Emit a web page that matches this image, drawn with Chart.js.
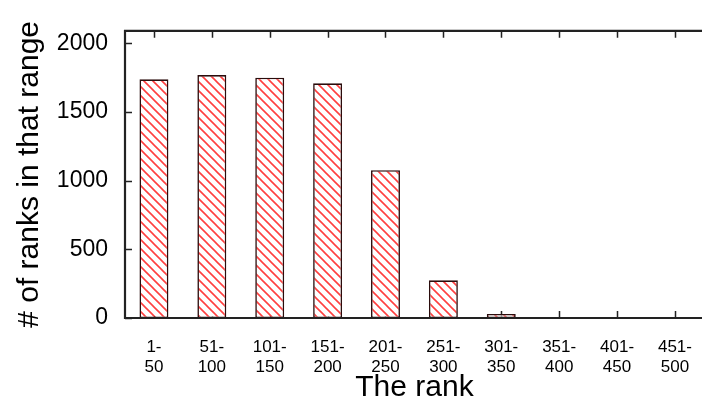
<!DOCTYPE html>
<html><head><meta charset="utf-8">
<script src="https://cdn.jsdelivr.net/npm/chart.js@4/dist/chart.umd.min.js"></script>
<style>
html,body{margin:0;padding:0;background:#fff;overflow:hidden;width:702px;height:404px}
#wrap{width:712px;height:404px;position:relative}
</style>
</head><body>
<div id="wrap"><canvas id="c" width="712" height="404"></canvas></div>
<script>
// ---- data ----
const categories = [['1-','50'],['51-','100'],['101-','150'],['151-','200'],['201-','250'],
                    ['251-','300'],['301-','350'],['351-','400'],['401-','450'],['451-','500']];
const counts = [1737, 1768, 1749, 1708, 1076, 274, 30, 0, 0, 0];
const yTicks = [0, 500, 1000, 1500, 2000];
const yMax = 2090;
const xTitle = 'The rank';
const yTitle = '# of ranks in that range';

// ---- hatch pattern ----
function hatch(){
  const s = 9, c = document.createElement('canvas');
  c.width = s; c.height = s;
  const g = c.getContext('2d');
  g.fillStyle = '#fff'; g.fillRect(0,0,s,s);
  g.strokeStyle = '#ff4040'; g.lineWidth = 1.6;
  g.beginPath();
  for (const o of [-s, 0, s]) { g.moveTo(o - 1, -1); g.lineTo(o + s + 1, s + 1); }
  g.stroke();
  return g.createPattern(c, 'repeat');
}

const FONT = 'Liberation Sans, Arial, Helvetica, sans-serif';

const frame = {
  id: 'frame',
  beforeDatasetsDraw(chart){
    const {ctx, chartArea: a, scales: {x, y}} = chart;
    ctx.save();
    ctx.strokeStyle = '#222'; ctx.lineWidth = 1.5;
    ctx.beginPath();
    for (let i = 0; i < categories.length; i++) {
      const px = Math.round(x.getPixelForValue(i)) + 0.5;
      ctx.moveTo(px, a.top); ctx.lineTo(px, a.top + 7);
      ctx.moveTo(px, a.bottom); ctx.lineTo(px, a.bottom - 7);
    }
    for (const v of yTicks) {
      const py = Math.round(y.getPixelForValue(v)) + 0.5;
      ctx.moveTo(a.left, py); ctx.lineTo(a.left + 7, py);
    }
    ctx.stroke();
    ctx.restore();
  },
  afterDatasetsDraw(chart){
    const {ctx, chartArea: a} = chart;
    ctx.save();
    ctx.strokeStyle = '#222'; ctx.lineWidth = 2.2;
    ctx.beginPath();
    ctx.moveTo(a.right + 2, a.top); ctx.lineTo(a.left, a.top);
    ctx.lineTo(a.left, a.bottom); ctx.lineTo(a.right + 2, a.bottom);
    ctx.stroke();
    ctx.restore();
  }
};

new Chart(document.getElementById('c'), {
  type: 'bar',
  data: {
    labels: categories,
    datasets: [{
      data: counts,
      backgroundColor: hatch(),
      borderColor: '#2a0c0c',
      borderWidth: 1.6,
      borderSkipped: false,
      barPercentage: 0.5,
      categoryPercentage: 1.0
    }]
  },
  options: {
    responsive: false,
    animation: false,
    events: [],
    layout: { padding: { top: 25, right: 1, left: 0, bottom: 0 } },
    plugins: { legend: { display: false }, tooltip: { enabled: false } },
    scales: {
      x: {
        grid: { display: false, drawTicks: false },
        border: { display: false },
        ticks: { color: '#000', font: { family: FONT, size: 17, lineHeight: 1.15 }, padding: 20, maxRotation: 0, autoSkip: false },
        title: { display: true, text: xTitle, color: '#000', font: { family: FONT, size: 30, lineHeight: 1.1 }, padding: 0 },
        afterFit(s){ s.height = 86; }
      },
      y: {
        min: 0, max: yMax,
        grid: { display: false, drawTicks: false },
        border: { display: false },
        afterBuildTicks(s){ s.ticks = yTicks.map(v => ({ value: v })); },
        ticks: { color: '#000', font: { family: FONT, size: 23 }, padding: 17, callback: v => String(v) },
        title: { display: true, text: yTitle, color: '#000', font: { family: FONT, size: 30, lineHeight: 1.2 }, padding: { top: 12, bottom: 0 } },
        afterFit(s){ s.width = 125; }
      }
    }
  },
  plugins: [frame]
});
</script>
</body></html>
